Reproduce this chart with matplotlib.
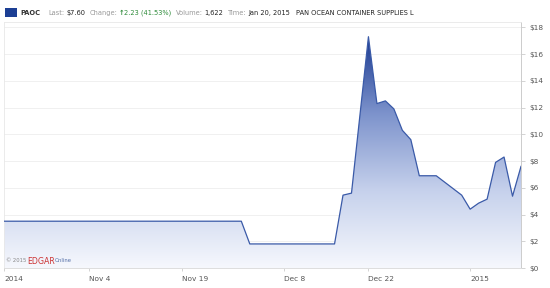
import numpy as np
import matplotlib.pyplot as plt
from matplotlib.colors import LinearSegmentedColormap
from matplotlib.patches import Polygon, Rectangle

# trading-day index and closing price
days = [0, 28, 29, 39, 40, 41, 43, 44, 45, 46, 47, 48, 49, 51, 54, 55, 56, 57, 58, 59, 60, 61]
price = [3.5, 3.5, 1.8, 1.8, 5.45, 5.6, 17.3, 12.3, 12.5, 11.9, 10.3, 9.6, 6.9, 6.9,
         5.45, 4.4, 4.85, 5.15, 7.9, 8.3, 5.37, 7.6]

tick_days = [0, 10, 21, 33, 43, 55]
tick_labels = ["2014", "Nov 4", "Nov 19", "Dec 8", "Dec 22", "2015"]
y_ticks = [0, 2, 4, 6, 8, 10, 12, 14, 16, 18]

W, H = 550, 288
fig = plt.figure(figsize=(W / 100, H / 100), dpi=100)
fig.patch.set_facecolor("white")

# plot area in pixels
x0, x1, ytop, ybot = 4, 521, 22, 268
ax = fig.add_axes([x0 / W, (H - ybot) / H, (x1 - x0) / W, (ybot - ytop) / H])
ax.set_xlim(0, 61)
ax.set_ylim(0, 18.4)

# gradient fill under the line
cmap = LinearSegmentedColormap.from_list("g", ["#f6f8fd", "#c6d1ec", "#7d93cc", "#1a3990"])
grad = np.linspace(0, 1, 256).reshape(-1, 1)
img = ax.imshow(grad, extent=[0, 61, 0, 17.3], origin="lower", aspect="auto",
                cmap=cmap, zorder=1)
poly = Polygon(list(zip(days, price)) + [(days[-1], 0), (days[0], 0)],
               closed=True, facecolor="none", edgecolor="none")
ax.add_patch(poly)
img.set_clip_path(poly)
ax.plot(days, price, color="#3a5aa8", lw=0.9, zorder=3)

# grid
for v in y_ticks[1:]:
    ax.axhline(v, color="#eeeeee", lw=0.6, zorder=0)

for s in ["top", "left"]:
    ax.spines[s].set_color("#e8e8e8")
    ax.spines[s].set_linewidth(0.6)
ax.spines["bottom"].set_color("#dddddd")
ax.spines["bottom"].set_linewidth(0.7)
ax.spines["right"].set_color("#cccccc")
ax.spines["right"].set_linewidth(0.7)

ax.yaxis.tick_right()
ax.set_yticks(y_ticks)
ax.set_yticklabels([f"${v}" for v in y_ticks])
ax.tick_params(axis="y", length=3, width=0.6, color="#cccccc", labelsize=5.3,
               labelcolor="#555555", pad=3)
ax.set_xticks(tick_days)
ax.set_xticklabels(tick_labels, ha="left")
ax.tick_params(axis="x", length=2, width=0.6, color="#cccccc", labelsize=5.3,
               labelcolor="#555555", pad=4)

fig.canvas.draw()
renderer = fig.canvas.get_renderer()


def chain(items, x_start, y, fs, transform_y):
    # place texts one after another, measuring each
    xp = x_start
    for txt, col, wt, gap, scale in items:
        t = fig.text(xp / W, transform_y, txt, fontsize=fs * scale, color=col,
                     fontweight=wt, va="center")
        bb = t.get_window_extent(renderer)
        xp = bb.x1 + gap


# watermark
chain([("© 2015", "#888888", "normal", 1, 1.0),
       ("EDGAR", "#cc3333", "normal", 0, 1.5),
       ("Online", "#5570a8", "normal", 0, 1.0)], 6, 0, 3.8, (H - 261) / H)

# header
fig.patches.append(Rectangle((5 / W, (H - 17) / H), 12 / W, 9 / H, transform=fig.transFigure,
                             facecolor="#1c3f94", edgecolor="none"))
header = [
    ("PAOC", "#333333", "bold", 8, 1),
    ("Last:", "#999999", "normal", 2, 1),
    ("$7.60", "#222222", "normal", 4, 1),
    ("Change:", "#999999", "normal", 2, 1),
    ("\u2191", "#2e8b3a", "bold", 0, 1),
    ("2.23 (41.53%)", "#2e8b3a", "normal", 4, 1),
    ("Volume:", "#999999", "normal", 2, 1),
    ("1,622", "#222222", "normal", 4, 1),
    ("Time:", "#999999", "normal", 2, 1),
    ("Jan 20, 2015", "#222222", "normal", 6, 1),
    ("PAN OCEAN CONTAINER SUPPLIES L", "#222222", "normal", 0, 1),
]
chain(header, 20, 0, 4.8, (H - 13) / H)

fig.savefig("out.png", dpi=100)
